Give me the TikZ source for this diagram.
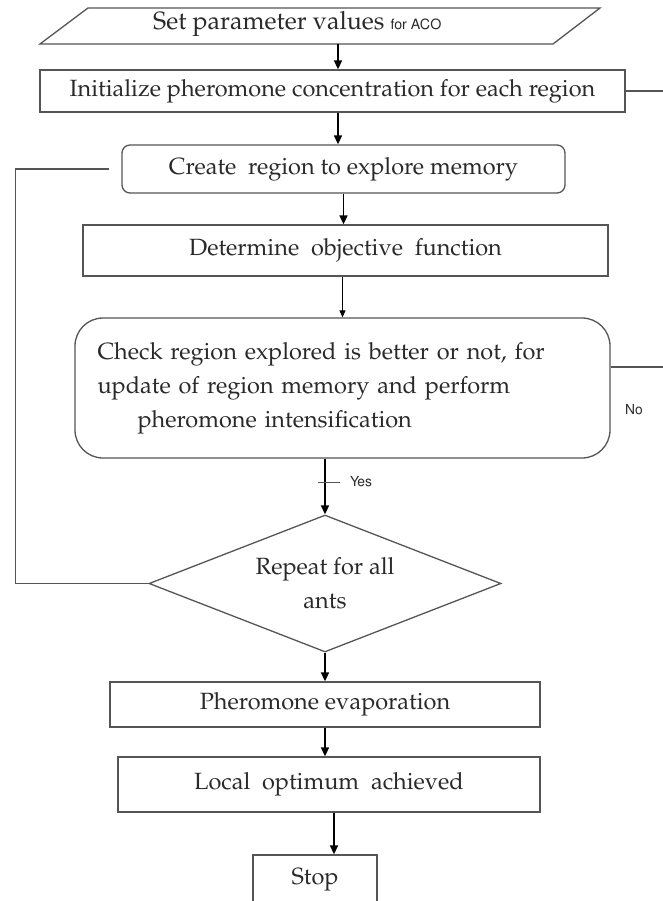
\documentclass[tikz,border=0pt]{standalone}
\usepackage[T1]{fontenc}
\usepackage{mathpazo}
\usepackage[scaled=0.92]{helvet}
\usetikzlibrary{arrows.meta,shapes.geometric}
\definecolor{boxgray}{HTML}{555555}
\definecolor{txtc}{HTML}{2A2A2A}
\newcommand{\mainfs}{\fontsize{23.5}{34}\selectfont}
\newcommand{\smallsans}{\sffamily\fontsize{15}{17}\selectfont}
\begin{document}
\begin{tikzpicture}[x=1pt,y=-1pt,
  box/.style={draw=boxgray, line width=1.3pt, inner sep=0pt, text=txtc, font=\mainfs, minimum width=#1},
  txt/.style={inner sep=0pt, text=txtc, font=\mainfs},
  lbl/.style={inner sep=0pt, text=txtc, font=\smallsans},
  arr/.style={draw=black, line width=1.6pt, -{Triangle[length=9pt,width=8pt]}},
  thinarr/.style={draw=black, line width=1pt, -{Triangle[length=7pt,width=6pt]}},
  conn/.style={draw=boxgray, line width=1.3pt}]
\useasboundingbox (0,0) rectangle (663,901);
\fill[white] (0,0) rectangle (663,901);

% parallelogram
\coordinate (p1) at (88,8);
\coordinate (p2) at (600,8);
\coordinate (p3) at (553,44);
\coordinate (p4) at (40,44);
\draw[conn] (p1) -- (p2) -- (p3) -- (p4) -- cycle;
\node[txt, anchor=west, font=\fontsize{25}{30}\selectfont] (param) at (153,24) {Set parameter values {\sffamily\fontsize{15.5}{18}\selectfont for ACO}};

\node[box=585pt, minimum height=42pt] (init) at (332.5,91) {Initialize pheromone concentration for each region};
\node[box=443pt, minimum height=48pt, rounded corners=8pt] (create) at (343.5,169) {Create\ \ region to explore memory};
\node[box=525pt, minimum height=51pt] (determine) at (345.5,250.5) {Determine\ \ objective\ \ function};
\node[box=535pt, minimum height=140pt, rounded corners=28pt, align=left, text width=490pt] (check) at (342.5,388)
  {Check region explored is better or not, for\\update of region memory and perform\\\hspace*{40pt}pheromone intensification};
\node[draw=boxgray, line width=1.3pt, shape=diamond, aspect=2.6, inner sep=0pt, minimum width=352pt, minimum height=137pt,
  text=txtc, font=\mainfs, align=center] (dia) at (325,583.5) {Repeat for all\\ants};
\node[box=430pt, minimum height=45pt] (pher) at (325,704.5) {Pheromone evaporation};
\node[box=422pt, minimum height=55pt] (local) at (329,784.5) {Local\ \ optimum\ \ achieved};
\node[box=124pt, minimum height=50pt] (stop) at (315,880) {Stop};

% column helpers
\coordinate (c1) at (338,0);
\coordinate (c2) at (334,0);
\coordinate (pb) at (338,44);

\draw[arr] (pb) -- (init.north -| c1);
\draw[arr] (init.south -| c1) -- (create.north -| c1);
\draw[arr] (create.south) -- (create.south |- determine.north);
\draw[thinarr] (determine.south -| check.north) -- (check.north);
\draw[arr] (check.south -| dia.north) -- (dia.north);
\draw[arr] (dia.south) -- (dia.south |- pher.north);
\draw[arr] (pher.south -| dia.south) -- (local.north -| dia.south);
\draw[arr] (local.south -| c2) -- (stop.north -| c2);

% Yes tick and label
\coordinate (tk) at (325,482);
\draw[conn, line width=0.8pt] ([xshift=-7pt]tk) -- ([xshift=15pt]tk);
\node[lbl, anchor=west] (yes) at (350,482) {Yes};

% No branch (cut off at right)
\coordinate (ir) at (663,91);
\coordinate (cr) at (663,367);
\draw[conn] (init.east) -- (ir);
\draw[conn] (check.east |- cr) -- (cr);
\node[lbl, anchor=west] (no) at (625,410) {No};

% feedback loop
\coordinate (fbend) at ([xshift=-12pt]create.west);
\draw[conn] (dia.west) -- ++(-133,0) |- (fbend);
\end{tikzpicture}
\end{document}
